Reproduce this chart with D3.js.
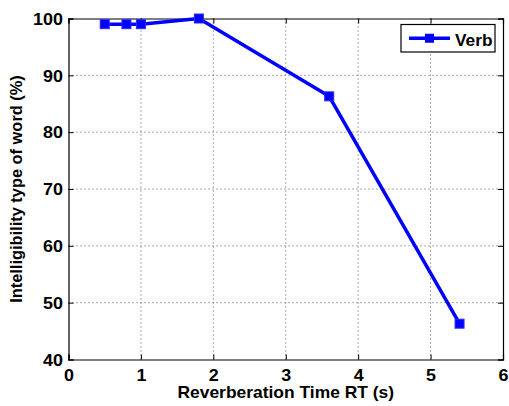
<!DOCTYPE html>
<html>
<head>
<meta charset="utf-8">
<script src="https://cdn.jsdelivr.net/npm/d3@7"></script>
<style>
  html, body { margin: 0; padding: 0; background: #fff; }
  svg { display: block; }
  text { font-family: "Liberation Sans", Arial, sans-serif; font-weight: bold; fill: #000; }
</style>
</head>
<body>
<svg id="chart" width="509" height="406"></svg>
<script>
// Reverberation time (s) and intelligibility (%) for verbs
const rtValues = [0.5, 0.8, 1.0, 1.8, 3.6, 5.4];
const verbValues = [99, 99, 99, 100, 86.3, 46.3];
const xTicks = [0, 1, 2, 3, 4, 5, 6];
const yTicks = [40, 50, 60, 70, 80, 90, 100];
const seriesName = "Verb";

const W = 509, H = 406;
const m = { left: 68.5, right: 6, top: 18.5, bottom: 46.5 };
const iw = W - m.left - m.right, ih = H - m.top - m.bottom;
const stretch = "scale(1.12,1)";

const svg = d3.select("#chart");
const g = svg.append("g").attr("transform", `translate(${m.left},${m.top})`);

const x = d3.scaleLinear().domain([0, 6]).range([0, iw]);
const y = d3.scaleLinear().domain([40, 100]).range([ih, 0]);

// dotted grid
g.append("g").selectAll("line").data(xTicks.slice(1, -1)).join("line")
  .attr("x1", d => x(d)).attr("x2", d => x(d)).attr("y1", 0).attr("y2", ih)
  .attr("stroke", "#555").attr("stroke-width", 1).attr("stroke-dasharray", "1,3");
g.append("g").selectAll("line").data(yTicks.slice(1, -1)).join("line")
  .attr("y1", d => y(d)).attr("y2", d => y(d)).attr("x1", 0).attr("x2", iw)
  .attr("stroke", "#555").attr("stroke-width", 1).attr("stroke-dasharray", "1,3");

// axes with inward ticks on all four sides
const fs = "16px";
const axBottom = g.append("g").attr("transform", `translate(0,${ih})`)
  .call(d3.axisBottom(x).tickValues(xTicks).tickSize(-5).tickPadding(10).tickFormat(d3.format("d")));
const axLeft = g.append("g")
  .call(d3.axisLeft(y).tickValues(yTicks).tickSize(-5).tickPadding(5).tickFormat(d3.format("d")));
const axTop = g.append("g")
  .call(d3.axisTop(x).tickValues(xTicks).tickSize(-5).tickFormat(""));
const axRight = g.append("g").attr("transform", `translate(${iw},0)`)
  .call(d3.axisRight(y).tickValues(yTicks).tickSize(-5).tickFormat(""));
[axBottom, axLeft, axTop, axRight].forEach(a => {
  a.select(".domain").attr("stroke", "#000").attr("stroke-width", 1.2);
  a.selectAll(".tick line").attr("stroke", "#000");
  a.selectAll("text").style("font-size", fs)
    .style("font-family", "'Liberation Sans', Arial, sans-serif")
    .style("font-weight", "bold").attr("transform", stretch);
});
axLeft.selectAll(".tick text").attr("dy", "0.36em");

// series line and markers
const line = d3.line().x((d, i) => x(rtValues[i])).y(d => y(d));
g.append("path").datum(verbValues)
  .attr("d", line).attr("fill", "none").attr("stroke", "#0000ff")
  .attr("stroke-width", 3.5).attr("stroke-linejoin", "round");
const ms = 9;
g.append("g").selectAll("rect").data(verbValues).join("rect")
  .attr("x", (d, i) => x(rtValues[i]) - ms / 2).attr("y", d => y(d) - ms / 2)
  .attr("width", ms).attr("height", ms)
  .attr("fill", "#0000ff").attr("stroke", "#2a2aff").attr("stroke-width", 1);

// axis titles
svg.append("text")
  .attr("transform", `translate(${m.left + iw / 2},398) scale(1.09,1)`)
  .attr("text-anchor", "middle").style("font-size", "16px")
  .text("Reverberation Time RT (s)");
svg.append("text").attr("transform", `translate(22,${m.top + ih / 2}) rotate(-90)`)
  .attr("text-anchor", "middle").style("font-size", "16.4px")
  .text("Intelligibility type of word (%)");

// legend
const lg = svg.append("g").attr("transform", "translate(401,24.5)");
lg.append("rect").attr("width", 94).attr("height", 27.5)
  .attr("fill", "#fff").attr("stroke", "#000").attr("stroke-width", 1.2);
lg.append("line").attr("x1", 8).attr("x2", 49).attr("y1", 13.75).attr("y2", 13.75)
  .attr("stroke", "#0000ff").attr("stroke-width", 3.5);
lg.append("rect").attr("x", 28.5 - ms / 2).attr("y", 13.75 - ms / 2)
  .attr("width", ms).attr("height", ms).attr("fill", "#0000ff");
lg.append("text").attr("transform", "translate(54,21.5) scale(1.08,1)")
  .style("font-size", "16px").text(seriesName);
</script>
</body>
</html>
